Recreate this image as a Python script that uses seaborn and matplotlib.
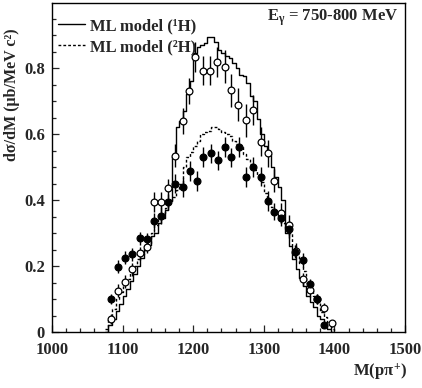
import numpy as np
import matplotlib
matplotlib.use("Agg")
import matplotlib.pyplot as plt
import seaborn as sns
from matplotlib.ticker import MultipleLocator

# Model histograms (5 MeV bins, left edges)
bin_edges = [1075, 1080, 1085, 1090, 1095, 1100, 1105, 1110, 1115, 1120,
             1125, 1130, 1135, 1140, 1145, 1150, 1155, 1160, 1165, 1170,
             1175, 1180, 1185, 1190, 1195, 1200, 1205, 1210, 1215, 1220,
             1225, 1230, 1235, 1240, 1245, 1250, 1255, 1260, 1265, 1270,
             1275, 1280, 1285, 1290, 1295, 1300, 1305, 1310, 1315, 1320,
             1325, 1330, 1335, 1340, 1345, 1350, 1355, 1360, 1365, 1370,
             1375, 1380, 1385, 1390, 1395, 1400]
model_h1 = [0.0, 0.02, 0.04, 0.065, 0.085, 0.11, 0.13, 0.155, 0.175, 0.20,
            0.225, 0.25, 0.265, 0.29, 0.30, 0.33, 0.345, 0.37, 0.40, 0.53,
            0.62, 0.64, 0.67, 0.72, 0.76, 0.845, 0.865, 0.87, 0.875, 0.895,
            0.895, 0.88, 0.855, 0.845, 0.835, 0.83, 0.815, 0.80, 0.78, 0.775,
            0.755, 0.715, 0.70, 0.645, 0.60, 0.565, 0.54, 0.50, 0.47, 0.44,
            0.40, 0.30, 0.26, 0.22, 0.19, 0.165, 0.14, 0.11, 0.09, 0.075,
            0.05, 0.04, 0.02, 0.01, 0.0, 0.0]
model_h2 = [0.01, 0.04, 0.07, 0.10, 0.12, 0.145, 0.16, 0.18, 0.20, 0.22,
            0.235, 0.255, 0.27, 0.30, 0.325, 0.345, 0.36, 0.375, 0.39, 0.41,
            0.43, 0.45, 0.50, 0.53, 0.545, 0.565, 0.58, 0.60, 0.605, 0.61,
            0.62, 0.62, 0.615, 0.605, 0.60, 0.595, 0.58, 0.57, 0.56, 0.54,
            0.525, 0.51, 0.49, 0.475, 0.455, 0.42, 0.40, 0.38, 0.36, 0.345,
            0.33, 0.31, 0.30, 0.26, 0.235, 0.21, 0.185, 0.15, 0.13, 0.11,
            0.09, 0.06, 0.045, 0.03, 0.01, 0.0]

# Data, hydrogen (open circles)
m_h1 = [1083, 1094, 1104, 1114, 1124, 1134, 1144, 1154, 1164, 1174,
        1185, 1194, 1203, 1214, 1224, 1234, 1245, 1254, 1264, 1275,
        1285, 1296, 1306, 1315, 1325, 1336, 1345, 1355, 1366, 1376,
        1385, 1396]
xs_h1 = [0.04, 0.125, 0.152, 0.19, 0.238, 0.258, 0.395, 0.395, 0.435, 0.534,
         0.64, 0.731, 0.834, 0.792, 0.792, 0.819, 0.804, 0.733, 0.688, 0.642,
         0.673, 0.577, 0.541, 0.458, 0.36, 0.324, 0.245, 0.16, 0.127, 0.10,
         0.072, 0.026]
err_h1 = [0.015, 0.02, 0.02, 0.02, 0.02, 0.02, 0.03, 0.03, 0.03, 0.035,
          0.04, 0.04, 0.045, 0.045, 0.045, 0.045, 0.05, 0.05, 0.05, 0.05,
          0.045, 0.045, 0.04, 0.035, 0.03, 0.03, 0.025, 0.02, 0.02, 0.015,
          0.015, 0.01]

# Data, deuterium (filled circles)
m_h2 = [1084, 1094, 1104, 1114, 1124, 1134, 1144, 1154, 1164, 1174,
        1185, 1195, 1205, 1214, 1225, 1235, 1245, 1254, 1265, 1275,
        1285, 1296, 1306, 1315, 1325, 1336, 1344, 1355, 1366, 1376,
        1385]
xs_h2 = [0.099, 0.198, 0.225, 0.235, 0.284, 0.281, 0.335, 0.353, 0.394, 0.45,
         0.438, 0.489, 0.458, 0.53, 0.541, 0.52, 0.561, 0.529, 0.56, 0.469,
         0.501, 0.471, 0.397, 0.365, 0.346, 0.311, 0.243, 0.218, 0.145, 0.099,
         0.021]
err_h2 = [0.015, 0.02, 0.02, 0.02, 0.02, 0.02, 0.025, 0.025, 0.025, 0.03,
          0.03, 0.03, 0.03, 0.03, 0.03, 0.03, 0.03, 0.03, 0.03, 0.03,
          0.03, 0.03, 0.03, 0.025, 0.025, 0.025, 0.02, 0.02, 0.015, 0.015,
          0.01]

sns.set_style("ticks")
plt.rcParams["font.family"] = ["Liberation Serif", "DejaVu Serif"]
plt.rcParams["font.weight"] = "bold"
plt.rcParams["mathtext.fontset"] = "custom"
plt.rcParams["mathtext.rm"] = "Liberation Serif:bold"
plt.rcParams["mathtext.it"] = "Liberation Serif:bold"
plt.rcParams["mathtext.bf"] = "Liberation Serif:bold"

fig = plt.figure(figsize=(4.22, 3.88), dpi=100)
ax = fig.add_axes([52 / 422, 1 - 332 / 388, 353 / 422, 329 / 388])

sns.lineplot(x=bin_edges, y=model_h1, drawstyle="steps-post", color="black",
             lw=1.0, ax=ax, label="ML model (\u00b9H)")
sns.lineplot(x=bin_edges, y=model_h2, drawstyle="steps-post", color="black",
             lw=1.0, linestyle=(0, (2, 1.5)), ax=ax, label="ML model (\u00b2H)")

ax.errorbar(m_h1, xs_h1, yerr=err_h1, fmt="none", ecolor="black", elinewidth=1.0, capsize=0)
ax.errorbar(m_h2, xs_h2, yerr=err_h2, fmt="none", ecolor="black", elinewidth=1.0, capsize=0)
sns.scatterplot(x=m_h1, y=xs_h1, marker="o", s=24, facecolor="white",
                edgecolor="black", linewidth=0.9, ax=ax, zorder=5)
sns.scatterplot(x=m_h2, y=xs_h2, marker="o", s=24, color="black",
                edgecolor="black", linewidth=0.9, ax=ax, zorder=6)

ax.set_xlim(1000, 1500)
ax.set_ylim(0, 0.997)
ax.set_yticks([0, 0.2, 0.4, 0.6, 0.8])
ax.set_yticklabels(["0", "0.2", "0.4", "0.6", "0.8"])
ax.xaxis.set_major_locator(MultipleLocator(100))
ax.xaxis.set_minor_locator(MultipleLocator(20))
ax.yaxis.set_minor_locator(MultipleLocator(0.05))
ax.tick_params(which="both", direction="in", top=False, right=False, labelsize=12, width=0.9)
ax.tick_params(which="major", length=5)
ax.tick_params(which="minor", length=3)
ax.tick_params(axis="x", which="major", pad=7)
ax.tick_params(axis="y", which="major", pad=5)
for s in ax.spines.values():
    s.set_linewidth(1.0)
    s.set_color("black")
    s.set_visible(True)
ax.set_xlabel("")
ax.set_ylabel("")

leg = ax.legend(loc="upper left", frameon=False, fontsize=12, handlelength=1.6,
                handletextpad=0.3, labelspacing=0.3, borderaxespad=0.2,
                bbox_to_anchor=(-0.01, 0.985))

fig.text(12 / 422, 1 - 95 / 388, "d\u03c3/dM (\u03bcb/MeV c\u00b2)", rotation=90,
         ha="center", va="center", fontsize=11.5, fontweight="bold")
fig.text(407 / 422, 1 - 372 / 388, r"M(p$\pi^{+}$)", ha="right", va="center",
         fontsize=12, fontweight="bold")
fig.text(333 / 422, 1 - 18 / 388, r"E$_{\gamma}$ = 750-800 MeV", ha="center", va="center",
         fontsize=12, fontweight="bold")

plt.savefig("out.png", dpi=100)
plt.close()
